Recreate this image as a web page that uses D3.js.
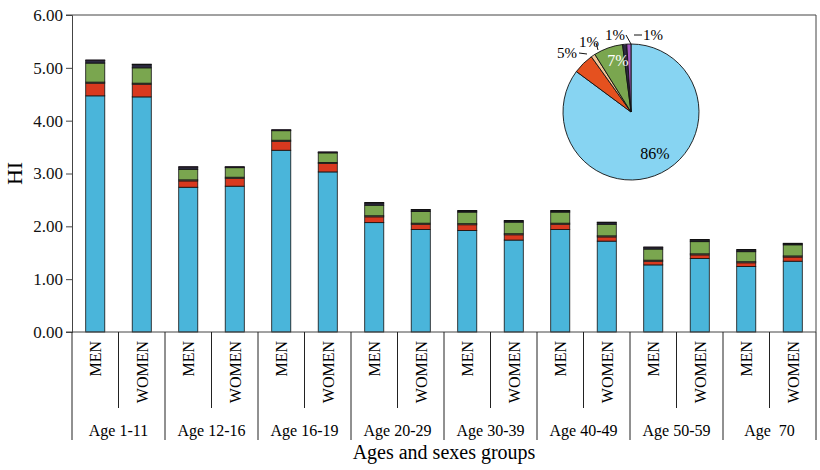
<!DOCTYPE html>
<html><head><meta charset="utf-8">
<script src="https://cdn.jsdelivr.net/npm/d3@7"></script>
<style>body{margin:0;background:#fff} svg text{font-family:"Liberation Serif","Times New Roman",serif !important;}</style>
</head><body><div id="chart"></div>
<script>
// Data
const groups = ["Age 1-11", "Age 12-16", "Age 16-19", "Age 20-29", "Age 30-39", "Age 40-49", "Age 50-59", "Age  70"];
const sexes = ["MEN", "WOMEN"];
const seriesNames = ["s1", "s2", "s3", "s4", "s5", "s6"];
const blue   = [4.47, 4.45, 2.74, 2.76, 3.44, 3.03, 2.07, 1.94, 1.92, 1.74, 1.94, 1.72, 1.27, 1.39, 1.24, 1.34];
const red    = [0.24, 0.24, 0.12, 0.15, 0.17, 0.16, 0.11, 0.10, 0.11, 0.10, 0.10, 0.08, 0.07, 0.07, 0.07, 0.08];
const tan    = [0.02, 0.02, 0.02, 0.02, 0.02, 0.02, 0.02, 0.02, 0.02, 0.02, 0.02, 0.02, 0.02, 0.02, 0.02, 0.02];
const green  = [0.36, 0.29, 0.20, 0.18, 0.18, 0.18, 0.20, 0.22, 0.22, 0.22, 0.21, 0.22, 0.21, 0.23, 0.19, 0.21];
const dark   = [0.05, 0.06, 0.04, 0.01, 0.01, 0.01, 0.04, 0.03, 0.02, 0.02, 0.02, 0.03, 0.03, 0.03, 0.03, 0.02];
const purple = [0.01, 0.01, 0.01, 0.01, 0.01, 0.01, 0.01, 0.01, 0.01, 0.01, 0.01, 0.01, 0.01, 0.01, 0.01, 0.01];
const barColors = ["#4ab5da", "#d8391f", "#f1c597", "#7aa64f", "#2c2a40", "#9a55b0"];
const pieValues = [86, 5, 1, 7, 1, 1];
const pieLabels = ["86%", "5%", "1%", "7%", "1%", "1%"];
const pieColors = ["#87d4f2", "#e5511f", "#f1c597", "#7aa64f", "#2c2a40", "#a65ac0"];
const yTicks = [0, 1, 2, 3, 4, 5, 6];

const W = 820, H = 470;
const m = { left: 72, right: 816, top: 15, bottom: 332 };
const svg = d3.select("#chart").append("svg").attr("width", W).attr("height", H);

const cats = d3.range(16);
const x = d3.scaleBand().domain(cats).range([m.left, m.right]).paddingInner(0.59).paddingOuter(0.295);
const y = d3.scaleLinear().domain([0, 6]).range([m.bottom, m.top]);

const rows = cats.map(i => ({ i, s1: blue[i], s2: red[i], s3: tan[i], s4: green[i], s5: dark[i], s6: purple[i] }));
const stacked = d3.stack().keys(seriesNames)(rows);

svg.append("g").selectAll("g").data(stacked).join("g")
  .attr("fill", (d, k) => barColors[k])
  .selectAll("rect").data(d => d).join("rect")
  .attr("x", d => x(d.data.i)).attr("width", x.bandwidth())
  .attr("y", d => y(d[1])).attr("height", d => y(d[0]) - y(d[1]))
  .attr("stroke", "#111").attr("stroke-width", 0.8);

// frame
svg.append("line").attr("x1", 66).attr("x2", m.right).attr("y1", m.top).attr("y2", m.top).attr("stroke", "#444");
svg.append("line").attr("x1", m.right).attr("x2", m.right).attr("y1", m.top).attr("y2", m.bottom).attr("stroke", "#444");

// y axis
const yAxis = svg.append("g").attr("transform", `translate(${m.left},0)`)
  .call(d3.axisLeft(y).tickValues(yTicks).tickFormat(d3.format(".2f")).tickSize(6));
yAxis.select(".domain").attr("stroke", "#444");
yAxis.selectAll(".tick line").attr("stroke", "#444");
yAxis.selectAll("text").attr("font-size", 17).attr("fill", "#111").attr("x", -9);
svg.append("text").attr("transform", `translate(22,${(m.top + m.bottom) / 2}) rotate(-90)`)
  .attr("text-anchor", "middle").attr("font-size", 22).text("HI");

// x axis categories
svg.append("line").attr("x1", 66).attr("x2", m.right).attr("y1", m.bottom).attr("y2", m.bottom).attr("stroke", "#444");
const step = x.step();
cats.forEach(i => {
  const left = m.left + i * step;
  svg.append("line").attr("x1", left).attr("x2", left).attr("y1", m.bottom)
    .attr("y2", i % 2 === 0 ? 440 : 408).attr("stroke", "#222");
  svg.append("text").attr("transform", `translate(${x(i) + x.bandwidth() / 2 + 6},341) rotate(-90)`)
    .attr("text-anchor", "end").attr("font-size", 16).text(sexes[i % 2]);
});
svg.append("line").attr("x1", m.right).attr("x2", m.right).attr("y1", m.bottom).attr("y2", 440).attr("stroke", "#222");
groups.forEach((g, k) => {
  svg.append("text").attr("x", m.left + (k + 0.5) * step * 2).attr("y", 436)
    .attr("text-anchor", "middle").attr("font-size", 16).attr("xml:space", "preserve").text(g);
});
svg.append("text").attr("x", (m.left + m.right) / 2).attr("y", 459).attr("text-anchor", "middle")
  .attr("font-size", 20).text("Ages and sexes groups");

// pie
const cx = 631, cy = 112, r = 68;
const pie = d3.pie().sort(null)(pieValues);
const arc = d3.arc().innerRadius(0).outerRadius(r);
const pg = svg.append("g").attr("transform", `translate(${cx},${cy})`);
pg.selectAll("path").data(pie).join("path").attr("d", arc)
  .attr("fill", (d, k) => pieColors[k]).attr("stroke", "#111").attr("stroke-width", 0.9);
// inside labels
pg.append("text").attr("x", 24).attr("y", 47).attr("text-anchor", "middle").attr("font-size", 16).text(pieLabels[0]);
pg.append("text").attr("x", -13).attr("y", -46).attr("text-anchor", "middle").attr("font-size", 16).attr("fill", "#fff").text(pieLabels[3]);
// outside labels with leaders
const outside = [
  { k: 1, tx: -54, ty: -54, lx: [-52, -44], ly: [-59, -58], a: "end" },
  { k: 2, tx: -32, ty: -65, lx: [-35, -33], ly: [-69, -62], a: "end" },
  { k: 4, tx: -6, ty: -72, lx: [-5, 0], ly: [-77, -68], a: "end" },
  { k: 5, tx: 12, ty: -72, lx: [3, 11], ly: [-77, -77], a: "start" }
];
outside.forEach(o => {
  pg.append("text").attr("x", o.tx).attr("y", o.ty).attr("text-anchor", o.a)
    .attr("font-size", 15).text(pieLabels[o.k]);
  pg.append("line").attr("x1", o.lx[0]).attr("x2", o.lx[1]).attr("y1", o.ly[0]).attr("y2", o.ly[1]).attr("stroke", "#111");
});
</script></body></html>
